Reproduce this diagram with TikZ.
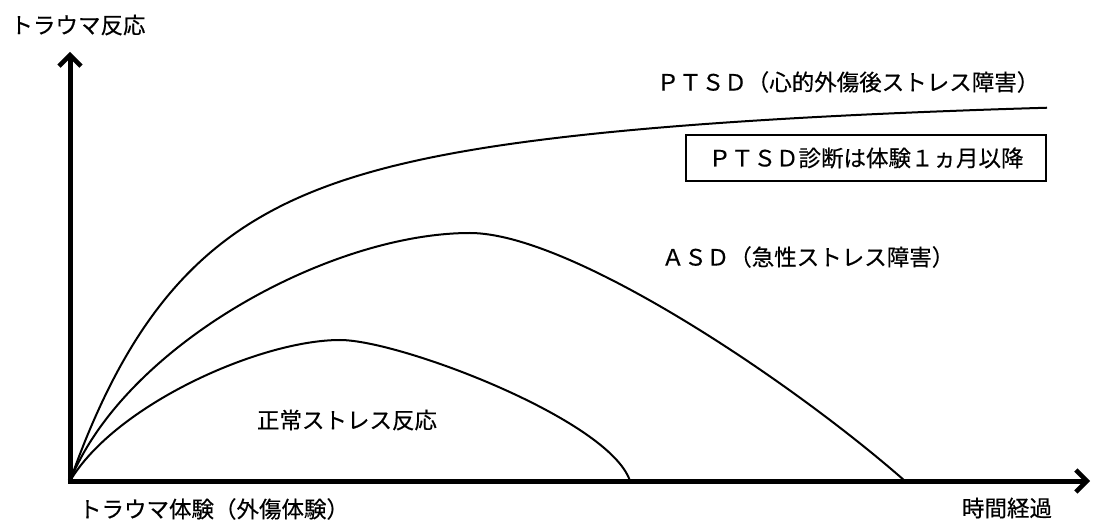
\documentclass[tikz,border=0pt]{standalone}
\usepackage{fontspec}
\setmainfont[FakeBold=0.4]{Noto Sans CJK JP}
\usetikzlibrary{arrows.meta}
\tikzset{
  axis/.style={line width=5pt, -{Straight Barb[length=11pt,width=22pt,line width=4.5pt]}},
  curve/.style={line width=2pt, line join=round},
  lbl/.style={inner sep=0pt, font=\fontsize{22.5pt}{25pt}\selectfont},
  boxlbl/.style={draw, line width=1.5pt, minimum width=360pt, minimum height=46pt, inner sep=0pt, font=\fontsize{22.5pt}{25pt}\selectfont}
}
\begin{document}
\begin{tikzpicture}[x=1pt,y=-1pt]
\useasboundingbox (0,0) rectangle (1093,521);
\coordinate (O) at (70,481);
\coordinate (Ytop) at (70,52);
\coordinate (Xend) at (1090,481);
\coordinate (asdpeak) at (470,233);
\coordinate (asdend) at (905,481);
\coordinate (nrmpeak) at (340,340);
\coordinate (nrmend) at (630,481);
% PTSD curve
\draw[curve] plot[domain=0:977, samples=120, smooth, variable=\u]
  ({70+\u}, {481-250*(1-exp(-\u/100))-135*(1-exp(-\u/400))});
% ASD curve
\draw[curve] (O) .. controls (125,345) and (330,233) .. (asdpeak)
  .. controls (570,233) and (790,380) .. (asdend);
% normal stress reaction curve
\draw[curve] (O) .. controls (115,405) and (260,340) .. (nrmpeak)
  .. controls (400,340) and (610,420) .. (nrmend);
% axes
\draw[axis] ([yshift=2.5pt]O) -- (Ytop);
\draw[axis] ([xshift=-2.5pt]O) -- (Xend);
% labels
\node[lbl] (ylab) at (78,25) {トラウマ反応};
\node[lbl] (xlab) at (214,509) {トラウマ体験（外傷体験）};
\node[lbl] (tlab) at (1007,508) {時間経過};
\node[lbl] (ptsd) at (848,82) {ＰＴＳＤ（心的外傷後ストレス障害）};
\node[boxlbl] (diag) at (866,158) {ＰＴＳＤ診断は体験１ヵ月以降};
\node[lbl] (asd) at (808,257) {ＡＳＤ（急性ストレス障害）};
\node[lbl] (norm) at (347,420) {正常ストレス反応};
\end{tikzpicture}
\end{document}
